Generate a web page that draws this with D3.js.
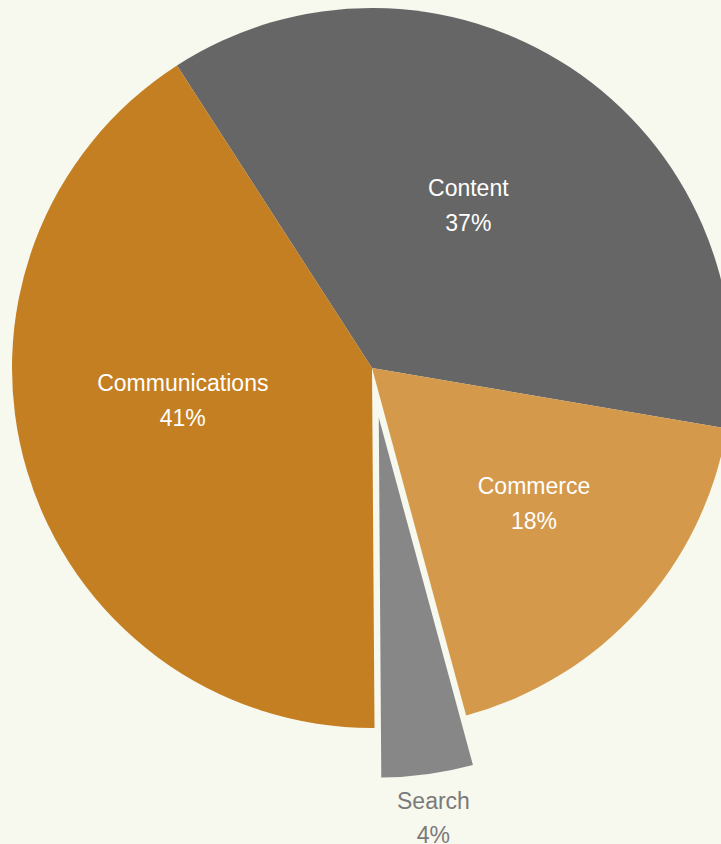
<!DOCTYPE html>
<html>
<head>
<meta charset="utf-8">
<script src="https://cdn.jsdelivr.net/npm/d3@7"></script>
<style>
    body { margin: 0; background: #f7f8ee; overflow: hidden; }
    .label { font-family: "Liberation Sans", sans-serif; font-size: 23px; }
</style>
</head>
<body>
<div id="chart"></div>
<script>

// data (shares, labels show rounded values)
let categories = ["Content", "Commerce", "Search", "Communications"];
let shares = [36.8, 18.1, 4.1, 41.0];
let colors = ["#666666", "#d4994b", "#878787", "#c47f22"];
let exploded = [false, false, true, false];

let width = 721, height = 844;
let cx = 372, cy = 368;
let radius = 360;
let explodeDist = 50;
let startAngle = -32.8 * Math.PI / 180;

// small label nudges (degrees, radius) so the text sits like in the original
let labelNudge = {
    "Content": [-2.8, 189],
    "Commerce": [-2.4, 211],
    "Communications": [6.8, 192],
    "Search": [0, 404]
};

let data = categories.map((c, i) => ({name: c, value: shares[i], color: colors[i], out: exploded[i]}));

let svg = d3.select("#chart").append("svg")
    .attr("width", width)
    .attr("height", height);

let g = svg.append("g")
    .attr("transform", `translate(${cx}, ${cy})`);

let pie = d3.pie()
    .value(d => d.value)
    .sort(null)
    .startAngle(startAngle)
    .endAngle(startAngle + 2 * Math.PI);

let arc = d3.arc()
    .innerRadius(0)
    .outerRadius(radius);

let arcs = pie(data);

// offset for exploded slices
function offset(d) {
    if (!d.data.out) return [0, 0];
    let mid = (d.startAngle + d.endAngle) / 2;
    return [Math.sin(mid) * explodeDist, -Math.cos(mid) * explodeDist];
}

function labelPos(d) {
    let n = labelNudge[d.data.name];
    let a = (d.startAngle + d.endAngle) / 2 + n[0] * Math.PI / 180;
    return [Math.sin(a) * n[1], -Math.cos(a) * n[1]];
}

let slices = g.selectAll(".slice")
    .data(arcs)
    .enter()
    .append("g")
    .attr("class", "slice")
    .attr("transform", d => `translate(${offset(d)})`);

slices.append("path")
    .attr("d", arc)
    .attr("fill", d => d.data.color);

// labels
slices.each(function (d) {
    let t = d3.select(this).append("text")
        .attr("class", "label")
        .attr("text-anchor", "middle")
        .attr("fill", d.data.out ? "#7a7a7a" : "#ffffff")
        .attr("transform", `translate(${labelPos(d)})`);
    t.append("tspan")
        .attr("x", 0)
        .attr("dy", "-0.4em")
        .text(d.data.name);
    t.append("tspan")
        .attr("x", 0)
        .attr("dy", "1.5em")
        .text(Math.round(d.data.value) + "%");
});

</script>
</body>
</html>
